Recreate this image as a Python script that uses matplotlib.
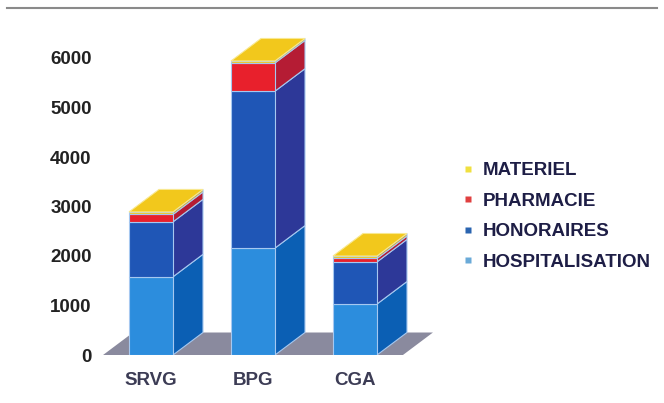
import matplotlib
matplotlib.use("Agg")
import matplotlib.pyplot as plt
from matplotlib.patches import Polygon, Rectangle
from matplotlib.lines import Line2D

# Stacked costs per organisation
categories = ["SRVG", "BPG", "CGA"]
hospitalisation = [1580, 2160, 1030]
honoraires = [1110, 3170, 850]
pharmacie = [150, 570, 70]
materiel = [50, 40, 50]

series_names = ["HOSPITALISATION", "HONORAIRES", "PHARMACIE", "MATERIEL"]
series_values = [hospitalisation, honoraires, pharmacie, materiel]
front_colors = ["#2c8ddd", "#1f56b6", "#e8202c", "#f2c81c"]
side_colors = ["#0b5fb4", "#2d3898", "#b51c34", "#d9a81e"]
legend_colors = ["#6aaad8", "#2a64b0", "#e04040", "#f0e040"]
y_ticks = [0, 1000, 2000, 3000, 4000, 5000, 6000]

W, H = 664, 403
fig = plt.figure(figsize=(W / 100, H / 100), dpi=100)
fig.patch.set_facecolor("white")

# axes: category unit = 102 px, 1000 units = 49.5 px
ax_left, ax_right, ax_bottom, ax_top = 100, 450, 355, 30
ax = fig.add_axes([ax_left / W, (H - ax_bottom) / H,
                   (ax_right - ax_left) / W, (ax_bottom - ax_top) / H])
px_per_cat = 102.0
px_per_val = 49.5 / 1000.0
xmin = -51.0 / px_per_cat
ax.set_xlim(xmin, xmin + (ax_right - ax_left) / px_per_cat)
ax.set_ylim(0, (ax_bottom - ax_top) / px_per_val)

# oblique depth of the pseudo-3D boxes
ddx = 30 / px_per_cat
ddy = 22.5 / px_per_val
bar_w = 44 / px_per_cat
edge = "#a6c8f0"

# floor
fl0, fl1 = -0.47, 2.47
ax.add_patch(Polygon([(fl0, 0), (fl1, 0), (fl1 + ddx, ddy), (fl0 + ddx, ddy)],
                     closed=True, facecolor="#8a8a9e", edgecolor="none", zorder=1))

for i in range(len(categories)):
    x0 = i - bar_w / 2
    x1 = i + bar_w / 2
    bottom = 0
    for s, vals in enumerate(series_values):
        v = vals[i]
        top = bottom + v
        # side face
        ax.add_patch(Polygon([(x1, bottom), (x1 + ddx, bottom + ddy),
                              (x1 + ddx, top + ddy), (x1, top)], closed=True,
                             facecolor=side_colors[s], edgecolor=edge,
                             linewidth=0.8, zorder=2))
        # front face
        ax.add_patch(Rectangle((x0, bottom), bar_w, v, facecolor=front_colors[s],
                               edgecolor=edge, linewidth=0.8, zorder=3))
        bottom = top
    # top face
    ax.add_patch(Polygon([(x0, bottom), (x1, bottom), (x1 + ddx, bottom + ddy),
                          (x0 + ddx, bottom + ddy)], closed=True,
                         facecolor=front_colors[-1], edgecolor="#f8e890",
                         linewidth=0.8, zorder=4))

for sp in ax.spines.values():
    sp.set_visible(False)
ax.set_facecolor("none")
ax.set_yticks(y_ticks)
ax.set_yticklabels([str(t) for t in y_ticks], fontsize=13.5, fontweight="bold",
                   color="#222222", family="Liberation Sans")
ax.set_xticks(range(len(categories)))
ax.set_xticklabels(categories, fontsize=13.5, fontweight="bold",
                   color="#3c3c55", family="Liberation Sans")
ax.tick_params(axis="y", length=0, pad=6)
ax.tick_params(axis="x", length=0, pad=12)

# legend, top series first
handles = [Line2D([], [], marker="s", linestyle="none", markersize=5,
                  markerfacecolor=legend_colors[s], markeredgecolor="none")
           for s in range(3, -1, -1)]
labels = [series_names[s] for s in range(3, -1, -1)]
leg = fig.legend(handles, labels, loc="upper left",
                 bbox_to_anchor=(462 / W, (H - 162) / H), frameon=False,
                 handlelength=0.6, handletextpad=0.5, labelspacing=0.72,
                 borderaxespad=0, borderpad=0,
                 prop={"family": "Liberation Sans", "weight": "bold", "size": 13.5})
for t in leg.get_texts():
    t.set_color("#1e1e46")

# rule across the top
fig.add_artist(Line2D([7 / W, 657 / W], [(H - 8) / H, (H - 8) / H],
                      color="#8a8a8a", linewidth=1.5))

fig.savefig("out.png", dpi=100)
